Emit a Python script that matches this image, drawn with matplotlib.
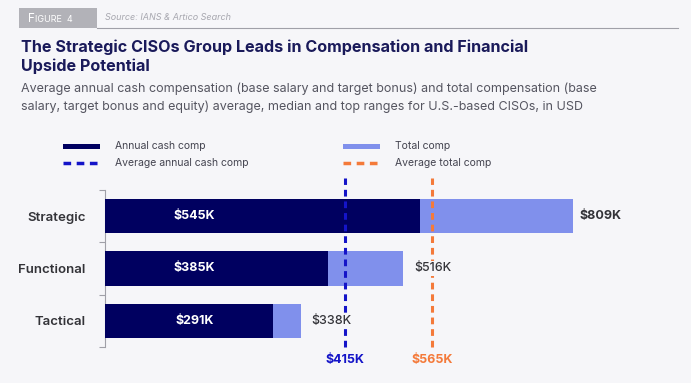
import matplotlib.pyplot as plt
from matplotlib.patches import Rectangle
from matplotlib.lines import Line2D

plt.rcParams['font.family'] = ['Inter', 'DejaVu Sans']

groups = ['Strategic', 'Functional', 'Tactical']
annual_cash = [545, 385, 291]
total_comp = [809, 516, 338]
avg_annual = 415
avg_total = 565

navy = '#000060'
light = '#8090ec'
blue = '#1414c8'
orange = '#f47a3a'
bg = '#f6f6f9'

W, H = 700, 383
fig = plt.figure(figsize=(7, 3.83), dpi=100, facecolor='white')

def fx(px):
    return px / W

def fy(py):
    return 1 - py / H

# card background
fig.patches.append(Rectangle((0, 0), fx(691), 1, transform=fig.transFigure,
                             facecolor=bg, edgecolor='none', zorder=-10))

# header
fig.patches.append(Rectangle((fx(19), fy(28)), fx(78), 20 / H, transform=fig.transFigure,
                             facecolor='#b2b2b8', edgecolor='none'))
fig.text(fx(28), fy(18.5), 'F', color='white', fontsize=8.5, va='center')
fig.text(fx(35), fy(19), 'IGURE  4', color='white', fontsize=6.5, va='center')
fig.text(fx(105), fy(17), 'Source: IANS & Artico Search', color='#a8a8b0', fontsize=6.5,
         style='italic', va='center')
fig.add_artist(Line2D([fx(97), fx(678)], [fy(28), fy(28)], transform=fig.transFigure,
                      color='#a0a0a8', lw=0.8))

# title and subtitle
fig.text(fx(21), fy(47), 'The Strategic CISOs Group Leads in Compensation and Financial',
         color='#1a1a5a', fontsize=11.6, fontweight='bold', va='center')
fig.text(fx(21), fy(66), 'Upside Potential', color='#1a1a5a', fontsize=11.6,
         fontweight='bold', va='center')
fig.text(fx(21), fy(89), 'Average annual cash compensation (base salary and target bonus) and total compensation (base',
         color='#555560', fontsize=9, va='center')
fig.text(fx(21), fy(107), 'salary, target bonus and equity) average, median and top ranges for U.S.-based CISOs, in USD',
         color='#555560', fontsize=9, va='center')

# legend
fig.patches.append(Rectangle((fx(63), fy(149)), fx(37), 5 / H, transform=fig.transFigure,
                             facecolor=navy, edgecolor='none'))
fig.patches.append(Rectangle((fx(343), fy(149)), fx(37), 5 / H, transform=fig.transFigure,
                             facecolor=light, edgecolor='none'))
fig.add_artist(Line2D([fx(63), fx(100)], [fy(163), fy(163)], transform=fig.transFigure,
                      color=blue, lw=2.5, dashes=(2.2, 1.6)))
fig.add_artist(Line2D([fx(343), fx(380)], [fy(163), fy(163)], transform=fig.transFigure,
                      color=orange, lw=2.5, dashes=(2.2, 1.6)))
fig.text(fx(115), fy(146), 'Annual cash comp', color='#444450', fontsize=7.5, va='center')
fig.text(fx(115), fy(163), 'Average annual cash comp', color='#444450', fontsize=7.5, va='center')
fig.text(fx(395), fy(146), 'Total comp', color='#444450', fontsize=7.5, va='center')
fig.text(fx(395), fy(163), 'Average total comp', color='#444450', fontsize=7.5, va='center')

# chart
ax = fig.add_axes([fx(105), fy(347), fx(680 - 105), (347 - 190) / H])
ax.set_facecolor('none')
y = range(len(groups))
ax.barh(y, total_comp, height=0.66, color=light, zorder=2)
ax.barh(y, annual_cash, height=0.66, color=navy, zorder=3)

for i in y:
    ax.text(155, i, f'${annual_cash[i]}K', color='white', fontsize=9, fontweight='bold',
            ha='center', va='center', zorder=5)
    ax.annotate(f'${total_comp[i]}K', (total_comp[i], i), xytext=(5 if i == 0 else 8, 0),
                textcoords='offset points', color='#333338', fontsize=9,
                fontweight='bold' if i == 0 else 'medium', ha='left', va='center', zorder=6,
                bbox=dict(boxstyle='square,pad=0.15', facecolor=bg, edgecolor='none'))

ax.plot([avg_annual, avg_annual], [2.5, -0.73], color=blue, lw=2.2, dashes=(2.2, 1.6),
        clip_on=False, zorder=4)
ax.plot([avg_total, avg_total], [2.5, -0.73], color=orange, lw=2.2, dashes=(2.2, 1.6),
        clip_on=False, zorder=4)
ax.text(avg_annual, 2.74, f'${avg_annual}K', color=blue, fontsize=9, fontweight='bold',
        ha='center', va='center')
ax.text(avg_total, 2.74, f'${avg_total}K', color=orange, fontsize=9, fontweight='bold',
        ha='center', va='center')

ax.set_xlim(0, 994)
ax.set_ylim(2.5, -0.5)
ax.set_yticks([-0.5, 0.5, 1.5, 2.5])
ax.set_yticklabels([])
ax.set_yticks(list(y), minor=True)
ax.set_yticklabels(groups, minor=True)
ax.tick_params(axis='y', which='major', length=4, color='#a0a0a8', width=0.8)
ax.tick_params(axis='y', which='minor', length=0, pad=14, labelsize=9.5, labelcolor='#333338')
for lab in ax.get_yticklabels(minor=True):
    lab.set_fontweight('semibold')
ax.set_xticks([])
for s in ['top', 'right', 'bottom']:
    ax.spines[s].set_visible(False)
ax.spines['left'].set_color('#a0a0a8')
ax.spines['left'].set_linewidth(0.8)

plt.savefig('out.png', dpi=100, facecolor=fig.get_facecolor())
